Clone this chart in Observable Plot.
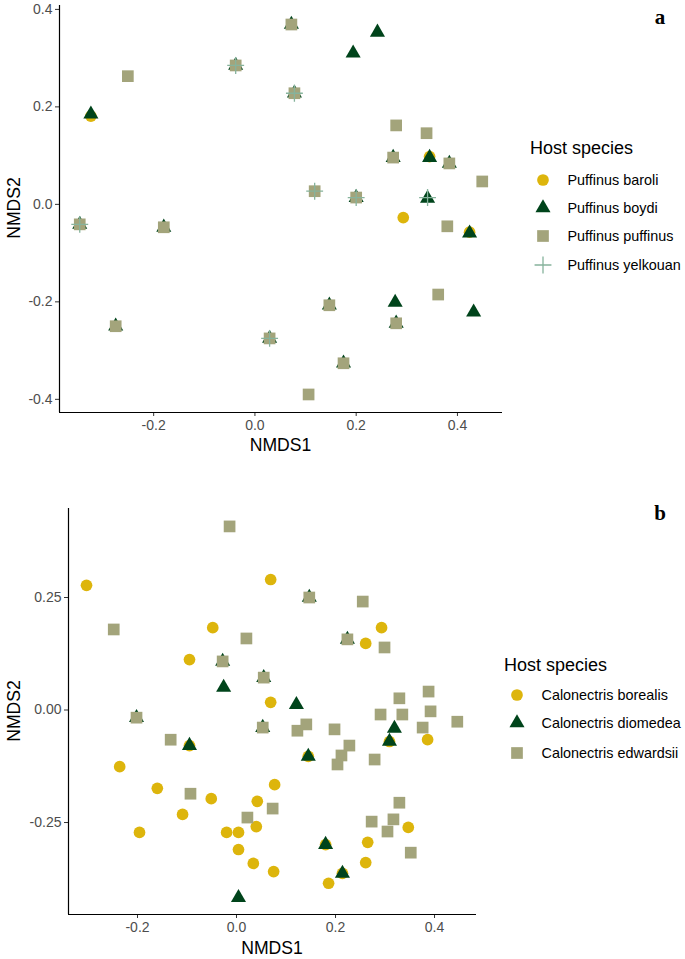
<!DOCTYPE html>
<html><head><meta charset="utf-8">
<script src="https://cdn.jsdelivr.net/npm/d3@7"></script>
<script src="https://cdn.jsdelivr.net/npm/@observablehq/plot@0.6"></script>
<style>
body{margin:0;background:#fff;}
#root{position:relative;width:685px;height:959px;overflow:hidden;font-family:"Liberation Sans",Arial,sans-serif;}
.abs{position:absolute;white-space:nowrap;}
.atitle{font-size:17.6px;color:#000;transform:translate(-50%,-50%);}
.ltitle{font-size:18px;color:#000;}
.llab{font-size:14.4px;color:#000;}
.plab{font-family:"Liberation Serif","Times New Roman",serif;font-weight:bold;font-size:21px;color:#000;transform:translate(-50%,-50%);}
</style></head><body><div id="root"></div>
<script>
// ---------- Panel a data ----------
const aSpecies = ["Puffinus baroli","Puffinus boydi","Puffinus puffinus","Puffinus yelkouan"];
const aBaroli = [[-0.324,0.181],[0.345,0.098],[0.293,-0.027],[0.424,-0.057]];
const aBoydi = [[-0.324,0.185],[-0.038,0.285],[-0.346,-0.041],[-0.180,-0.047],[0.072,0.369],[0.242,0.353],
  [0.194,0.310],[0.078,0.228],[0.273,0.096],[0.345,0.096],[0.384,0.084],[0.200,0.014],[0.341,0.012],
  [0.424,-0.059],[-0.275,-0.250],[0.147,-0.207],[0.277,-0.201],[0.432,-0.221],[0.279,-0.244],[0.029,-0.275],[0.175,-0.326]];
const aPuffinus = [[-0.251,0.263],[-0.038,0.285],[-0.346,-0.041],[-0.180,-0.047],[0.072,0.369],[0.078,0.228],
  [0.279,0.162],[0.339,0.146],[0.273,0.096],[0.384,0.084],[0.449,0.047],[0.118,0.027],[0.200,0.014],
  [0.380,-0.045],[-0.275,-0.250],[0.147,-0.207],[0.362,-0.185],[0.279,-0.244],[0.029,-0.275],[0.175,-0.326],[0.106,-0.390]];
const aYelkouan = [[-0.038,0.285],[-0.346,-0.041],[0.078,0.228],[0.118,0.027],[0.200,0.014],[0.341,0.014],[0.029,-0.275]];
const aXTicks = [-0.2, 0.0, 0.2, 0.4];
const aYTicks = [-0.4, -0.2, 0.0, 0.2, 0.4];

// ---------- Panel b data ----------
const bSpecies = ["Calonectris borealis","Calonectris diomedea","Calonectris edwardsii"];
const bBorealis = [[-0.303,0.277],[-0.048,0.183],[-0.095,0.112],[0.069,0.290],[0.261,0.148],[0.293,0.183],
  [0.069,0.017],[-0.095,-0.079],[-0.236,-0.126],[-0.160,-0.174],[-0.051,-0.197],[-0.109,-0.232],[-0.196,-0.272],
  [0.042,-0.203],[0.040,-0.259],[-0.020,-0.272],[0.004,-0.272],[0.004,-0.310],[0.034,-0.341],[0.077,-0.166],
  [0.075,-0.359],[0.309,-0.070],[0.386,-0.066],[0.145,-0.103],[0.347,-0.261],[0.265,-0.294],[0.261,-0.339],
  [0.180,-0.299],[0.214,-0.363],[0.186,-0.385]];
const bDiomedea = [[-0.028,0.108],[-0.026,0.050],[-0.202,-0.017],[0.147,0.250],[0.224,0.157],[0.055,0.072],
  [0.121,0.012],[0.053,-0.039],[0.319,-0.041],[-0.095,-0.079],[0.309,-0.070],[0.145,-0.103],[0.180,-0.299],
  [0.214,-0.363],[0.004,-0.417]];
const bEdwardsii = [[-0.014,0.408],[-0.248,0.179],[0.020,0.159],[-0.028,0.108],[0.255,0.241],[0.147,0.250],
  [0.224,0.157],[0.299,0.139],[0.055,0.072],[-0.202,-0.017],[0.329,0.026],[0.388,0.041],[0.392,-0.003],
  [0.291,-0.010],[0.335,-0.010],[0.446,-0.026],[0.053,-0.039],[0.123,-0.046],[0.141,-0.032],[0.198,-0.043],
  [0.376,-0.039],[-0.133,-0.066],[-0.093,-0.186],[0.228,-0.079],[0.212,-0.101],[0.204,-0.121],[0.279,-0.110],
  [0.073,-0.219],[0.022,-0.239],[0.329,-0.206],[0.273,-0.248],[0.317,-0.243],[0.305,-0.270],[0.352,-0.317]];
const bXTicks = [-0.2, 0.0, 0.2, 0.4];
const bYTicks = [-0.25, 0.0, 0.25];

// ---------- styles ----------
const COL = {circle:"#DDB50C", triangle:"#00441B", square:"#A3A47B", plus:"#86B39C"};
const R = {circle:5.85, triangle:5.6, square:6.6, plus:5.5};

const root = document.getElementById("root");

function dots(data, sym) {
  const o = {x: d => d[0], y: d => d[1], symbol: sym, r: R[sym]};
  if (sym === "plus") { o.fill = "none"; o.stroke = COL.plus; o.strokeWidth = 1.3; }
  else { o.fill = COL[sym]; o.stroke = "none"; }
  return Plot.dot(data, o);
}

function panel({top, width, height, margin, xDomain, yDomain, xTicks, yTicks, xFmt, yFmt, layers}) {
  const svg = Plot.plot({
    width, height,
    marginTop: margin[0], marginRight: margin[1], marginBottom: margin[2], marginLeft: margin[3],
    x: {domain: xDomain}, y: {domain: yDomain},
    style: {fontFamily: '"Liberation Sans", Arial, sans-serif', fontSize: "14px", color: "#4D4D4D", background: "white", overflow: "visible"},
    marks: [
      Plot.axisX({ticks: xTicks, tickFormat: xFmt, tickSize: 4, tickPadding: 4, label: null, stroke: "#333", fill: "#4D4D4D", fontSize: 14}),
      Plot.axisY({ticks: yTicks, tickFormat: yFmt, tickSize: 4, tickPadding: 3, label: null, stroke: "#333", fill: "#4D4D4D", fontSize: 14}),
      ...layers,
      Plot.ruleX([xDomain[0]], {stroke: "black", strokeWidth: 1.2}),
      Plot.ruleY([yDomain[0]], {stroke: "black", strokeWidth: 1.2})
    ]
  });
  svg.style.position = "absolute";
  svg.style.left = "0px";
  svg.style.top = top + "px";
  root.appendChild(svg);
}

function addText(cls, text, x, y, extra) {
  const d = document.createElement("div");
  d.className = "abs " + cls;
  d.textContent = text;
  d.style.left = x + "px";
  d.style.top = y + "px";
  if (extra) Object.assign(d.style, extra);
  root.appendChild(d);
  return d;
}

function legend(title, labels, syms, titleX, titleBaseline, symX, rowY, labX) {
  addText("ltitle", title, titleX, titleBaseline - 16.5);
  const typeMap = {circle: d3.symbolCircle, triangle: d3.symbolTriangle, square: d3.symbolSquare, plus: d3.symbolPlus};
  labels.forEach((lab, i) => {
    const sym = syms[i];
    const size = Math.PI * R[sym] * R[sym];
    const ns = "http://www.w3.org/2000/svg";
    const s = document.createElementNS(ns, "svg");
    s.setAttribute("width", 40); s.setAttribute("height", 40);
    s.style.position = "absolute";
    s.style.left = (symX - 20) + "px";
    s.style.top = (rowY[i] - 20) + "px";
    s.style.overflow = "visible";
    const p = document.createElementNS(ns, "path");
    p.setAttribute("transform", "translate(20,20)");
    p.setAttribute("d", d3.symbol(typeMap[sym], size)());
    if (sym === "plus") { p.setAttribute("fill", "none"); p.setAttribute("stroke", COL.plus); p.setAttribute("stroke-width", 1.3); }
    else p.setAttribute("fill", COL[sym]);
    s.appendChild(p);
    root.appendChild(s);
    addText("llab", lab, labX, rowY[i], {transform: "translate(0,-52%)"});
  });
}

const f1 = d => d.toFixed(1);
const f2 = d => d.toFixed(2);

// Panel a
panel({top: 0, width: 510, height: 440, margin: [5, 8, 28, 59],
  xDomain: [-0.386, 0.489], yDomain: [-0.427, 0.408], xTicks: aXTicks, yTicks: aYTicks, xFmt: f1, yFmt: f1,
  layers: [dots(aBaroli, "circle"), dots(aBoydi, "triangle"), dots(aPuffinus, "square"), dots(aYelkouan, "plus")]});
addText("atitle", "NMDS1", 280.5, 445);
addText("atitle", "NMDS2", 14, 208, {transform: "translate(-50%,-50%) rotate(-90deg)"});
addText("plab", "a", 660, 17);
legend("Host species", aSpecies, ["circle","triangle","square","plus"], 530, 154, 543, [179.5, 207.5, 236, 264.5], 567.5);

// Panel b
panel({top: 490, width: 490, height: 450, margin: [18, 14, 26, 68],
  xDomain: [-0.3394, 0.4848], yDomain: [-0.4544, 0.4478], xTicks: bXTicks, yTicks: bYTicks, xFmt: f1, yFmt: f2,
  layers: [dots(bBorealis, "circle"), dots(bDiomedea, "triangle"), dots(bEdwardsii, "square")]});
addText("atitle", "NMDS1", 272, 948);
addText("atitle", "NMDS2", 14, 711, {transform: "translate(-50%,-50%) rotate(-90deg)"});
addText("plab", "b", 660, 513);
legend("Host species", bSpecies, ["circle","triangle","square"], 504, 671, 517, [695, 723, 752.5], 541.5);
</script></body></html>
